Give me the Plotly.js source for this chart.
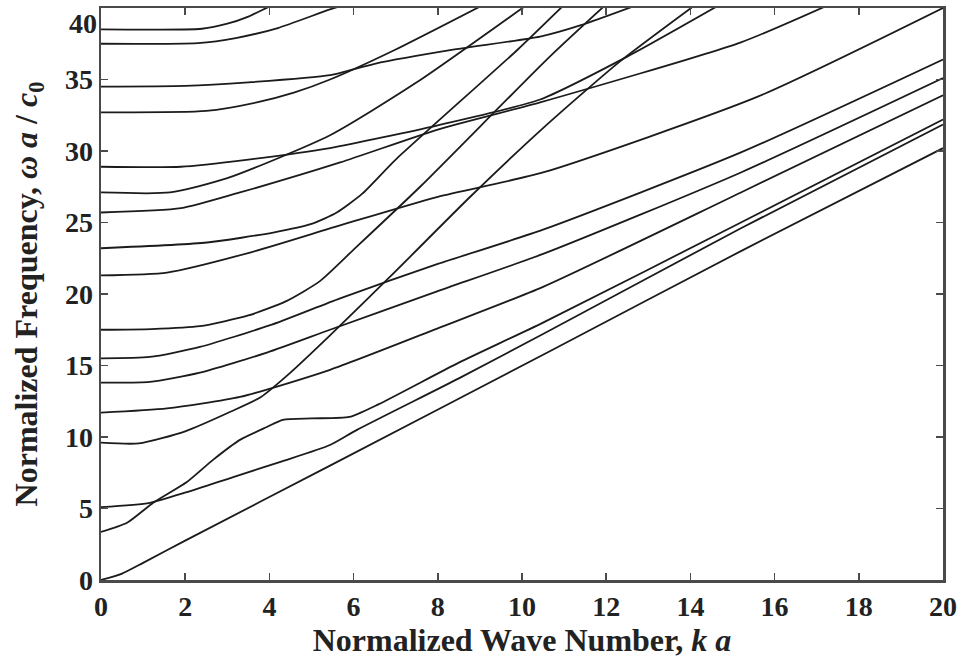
<!DOCTYPE html>
<html>
<head>
<meta charset="utf-8">
<script src="https://cdn.plot.ly/plotly-3.0.1.min.js"></script>
<style>
  html, body { margin: 0; padding: 0; background: #fff; }
  #chart { width: 961px; height: 660px; }
</style>
</head>
<body>
<div id="chart"></div>
<script>
// Dispersion branches: normalized wave number k·a  vs  normalized frequency ω·a/c0
const kA = [0, 0.5, 1, 2, 5.44, 10.66, 15.2, 20];
const wA = [0, 0.45, 1.2, 2.75, 8.0, 16.0, 23.0, 30.2];

const kB = [0, 0.62, 1.24, 2.04, 2.66, 3.3, 3.94, 4.32, 5.0, 5.9, 6.6, 8.5, 10.5, 15.2, 20];
const wB = [3.36, 4.0, 5.4, 6.85, 8.4, 9.8, 10.7, 11.2, 11.3, 11.4, 12.3, 15.2, 18.0, 25.0, 32.2];

const kC = [0, 1.16, 2.04, 3.14, 4.3, 5.44, 6.08, 8.5, 10.5, 15.2, 20];
const wC = [5.1, 5.4, 6.15, 7.2, 8.3, 9.44, 10.5, 14.1, 17.2, 24.6, 31.85];

const kD = [0, 0.9, 2.0, 3.1, 3.8, 4.5, 5.44, 7.0, 8.77, 10.5, 12.3, 14.2];
const wD = [9.6, 9.55, 10.4, 11.8, 12.8, 14.5, 17.1, 21.6, 26.8, 31.6, 36.2, 40.4];

const kE = [0, 1.57, 3.3, 5.44, 8.0, 10.5, 15.2, 20];
const wE = [11.7, 12.0, 12.8, 14.7, 17.6, 20.5, 27.1, 33.9];

const kF = [0, 1.16, 2.35, 3.94, 5.44, 8.0, 10.5, 15.2, 20];
const wF = [13.8, 13.85, 14.5, 15.9, 17.5, 20.2, 22.8, 28.5, 35.1];

const kG = [0, 1.16, 2.35, 4.0, 5.68, 8.0, 10.5, 15.2, 20];
const wG = [15.5, 15.6, 16.3, 17.8, 19.7, 22.1, 24.5, 29.9, 36.4];

const kH = [0, 1.2, 2.35, 3.5, 4.4, 5.2, 6.0, 7.58, 10.66, 12.2];
const wH = [17.5, 17.55, 17.75, 18.5, 19.5, 20.9, 23.1, 27.5, 36.6, 40.8];

const kI = [0, 1.57, 3.54, 5.68, 8.0, 10.5, 15.6, 20];
const wI = [21.3, 21.5, 22.9, 24.8, 26.8, 28.5, 33.8, 40.0];

const kJ = [0, 2.52, 4.09, 5.0, 5.6, 6.2, 7.0, 9.9, 11.2];
const wJ = [23.2, 23.6, 24.3, 24.9, 25.7, 27.0, 29.4, 37.1, 40.8];

const kK = [0, 1.9, 3.3, 5.68, 8.0, 10.43, 15.2, 17.5];
const wK = [25.7, 26.0, 27.1, 29.2, 31.5, 33.4, 37.6, 40.5];

const kL = [0, 1.64, 3.0, 5.44, 7.5, 10.2];
const wL = [27.1, 27.1, 28.1, 31.1, 34.8, 40.4];

const kM = [0, 1.9, 3.5, 5.44, 8.0, 10.43, 12.5, 14.8];
const wM = [28.9, 28.9, 29.4, 30.2, 31.8, 33.6, 36.6, 40.4];

const kN = [0, 2.5, 3.7, 4.6, 5.44, 7.0, 9.2];
const wN = [32.7, 32.8, 33.4, 34.1, 35.0, 37.1, 40.4];

const kO = [0, 2.0, 3.5, 5.44, 6.5, 8.4, 10.43, 11.4, 13.0];
const wO = [34.5, 34.55, 34.8, 35.3, 36.1, 37.1, 38.0, 38.8, 40.5];

const kP = [0, 2.3, 3.2, 4.2, 5.44, 6.1];
const wP = [37.5, 37.55, 37.9, 38.6, 39.9, 40.5];

const kQ = [0, 2.4, 3.0, 3.5, 4.0, 4.3];
const wQ = [38.5, 38.55, 38.9, 39.4, 40.1, 40.5];

const branches = [
  [kA, wA], [kB, wB], [kC, wC], [kD, wD], [kE, wE], [kF, wF], [kG, wG],
  [kH, wH], [kI, wI], [kJ, wJ], [kK, wK], [kL, wL], [kM, wM], [kN, wN],
  [kO, wO], [kP, wP], [kQ, wQ]
];

const xTicks = [0, 2, 4, 6, 8, 10, 12, 14, 16, 18, 20];
const yTicks = [0, 5, 10, 15, 20, 25, 30, 35, 40];
// the top label sits just inside the frame, so it is drawn as an annotation
const yTickText = yTicks.map(v => (v === 40 ? '' : String(v)));

const traces = branches.map(([k, w]) => ({
  x: k, y: w,
  type: 'scatter', mode: 'lines',
  line: { color: '#1b1b1b', width: 1.8, shape: 'spline', smoothing: 0.6 },
  hoverinfo: 'skip', showlegend: false
}));

const serif = 'Liberation Serif, Times New Roman, serif';
const tickFont = { family: serif, size: 28, color: '#222', weight: 'bold' };
const axisCommon = {
  showline: true, linecolor: '#4a4a4a', linewidth: 2.5, mirror: 'ticks',
  ticks: 'inside', ticklen: 7, tickwidth: 1.5, tickcolor: '#4a4a4a',
  showgrid: false, zeroline: false, tickfont: tickFont
};

const layout = {
  width: 961, height: 660,
  margin: { l: 101, r: 18, t: 8, b: 80 },
  paper_bgcolor: '#ffffff', plot_bgcolor: '#ffffff',
  xaxis: Object.assign({}, axisCommon, {
    range: [0, 20], tickvals: xTicks, ticktext: xTicks.map(String),
    title: { text: 'Normalized Wave Number, <i>k a</i>',
             font: { family: serif, size: 32, color: '#222', weight: 'bold' }, standoff: 0 }
  }),
  yaxis: Object.assign({}, axisCommon, {
    range: [0, 40], tickvals: yTicks, ticktext: yTickText,
    title: { text: 'Normalized Frequency, <i>ω a</i> / <i>c</i><sub>0</sub>',
             font: { family: serif, size: 32, color: '#222', weight: 'bold' }, standoff: 18 }
  }),
  annotations: [{
    xref: 'paper', yref: 'y', x: 0, y: 40, text: '40', showarrow: false,
    xanchor: 'right', yanchor: 'top', xshift: -2, yshift: 2,
    font: tickFont
  }]
};

Plotly.newPlot('chart', traces, layout, { staticPlot: true, displayModeBar: false });
</script>
</body>
</html>
